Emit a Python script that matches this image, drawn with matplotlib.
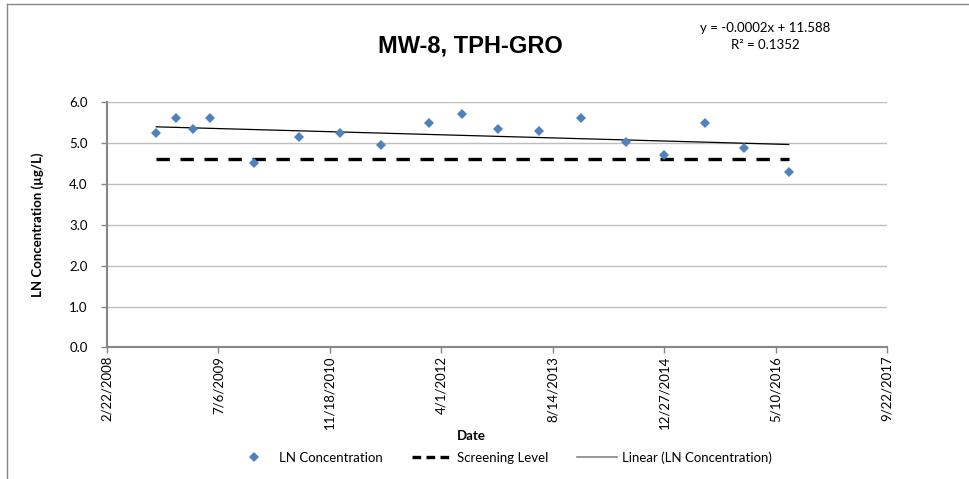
import matplotlib
matplotlib.use("Agg")
import matplotlib.pyplot as plt
import matplotlib.dates as mdates
from matplotlib.lines import Line2D
import numpy as np
import pandas as pd

# ---- data ----
sample_dates = ["2008-09-30", "2008-12-26", "2009-03-12", "2009-05-31", "2009-12-12",
                "2010-07-03", "2011-01-03", "2011-07-06", "2012-02-04", "2012-07-03",
                "2012-12-11", "2013-06-13", "2013-12-21", "2014-07-07", "2014-12-26",
                "2015-06-28", "2015-12-19", "2016-07-08"]
ln_conc = [5.25, 5.60, 5.35, 5.60, 4.52, 5.14, 5.25, 4.95, 5.49, 5.71,
           5.35, 5.30, 5.60, 5.02, 4.71, 5.49, 4.87, 4.30]
screening_level = 4.6
tick_start = "2008-02-22"
tick_step_days = 500
n_ticks = 8
y_ticks = [0.0, 1.0, 2.0, 3.0, 4.0, 5.0, 6.0]
title = "MW-8, TPH-GRO"
eq_text = "y = -0.0002x + 11.588"
r2_text = "R\u00b2 = 0.1352"

font = "Lato"
W, H = 969, 479
fig = plt.figure(figsize=(W / 100, H / 100), dpi=100)
ax = fig.add_axes([107 / W, (H - 347.4) / H, (887 - 107) / W, (347.4 - 102) / H])

dates = pd.to_datetime(sample_dates)
xnum = mdates.date2num(dates)

ax.plot(dates, ln_conc, linestyle="none", marker="D", markersize=5.4,
        color="#4F81BD", markeredgewidth=0, zorder=4)

sl_x = [dates[0], dates[-1]]
ax.plot(sl_x, [screening_level, screening_level], color="black", linewidth=2.4,
        dashes=(4.0, 3.2), dash_capstyle="butt", zorder=3)

coef = np.polyfit(xnum, ln_conc, 1)
tx = np.array([xnum[0], xnum[-1]])
ax.plot(mdates.num2date(tx), np.polyval(coef, tx), color="black", linewidth=0.9, zorder=3)

ticks = pd.date_range(tick_start, periods=n_ticks, freq=f"{tick_step_days}D")
ax.set_xlim(ticks[0], ticks[-1])
ax.set_xticks(ticks)
ax.set_xticklabels([f"{d.month}/{d.day}/{d.year}" for d in ticks], rotation=90,
                   fontsize=9.5, family=font)
ax.set_ylim(0, 6)
ax.set_yticks(y_ticks)
ax.set_yticklabels([f"{v:.1f}" for v in y_ticks], fontsize=9.5, family=font)

ax.grid(axis="y", color="#BEBEBE", linewidth=1.0)
ax.set_axisbelow(True)
for s in ["top", "right"]:
    ax.spines[s].set_visible(False)
for s in ["left", "bottom"]:
    ax.spines[s].set_color("#868686")
    ax.spines[s].set_linewidth(1.5)
ax.tick_params(axis="both", colors="#868686", length=4, width=1, labelcolor="black")
ax.tick_params(axis="x", pad=2)
ax.tick_params(axis="y", pad=10)

ax.set_xlabel("Date", fontsize=9.5, fontweight="bold", family=font)
ax.xaxis.set_label_coords((471 - 107) / (887 - 107), -(430.5 - 347.4) / (347.4 - 102))
ax.set_ylabel("LN Concentration (\u00b5g/L)", fontsize=9.5, fontweight="bold", family=font)
ax.yaxis.set_label_coords(-(107 - 44) / (887 - 107), 0.5)

fig.text(470 / W, 1 - 45.7 / H, title, ha="center", va="center", fontsize=17,
         fontweight="bold", family="Liberation Sans")
fig.text(765 / W, 1 - 28.5 / H, eq_text, ha="center", va="center", fontsize=9.5, family=font)
fig.text(765 / W, 1 - 45 / H, r2_text, ha="center", va="center", fontsize=9.5, family=font)

handles = [
    Line2D([], [], linestyle="none", marker="D", markersize=5.4, color="#4F81BD", markeredgewidth=0),
    Line2D([], [], color="black", linewidth=2.4, dashes=(2.6, 1.6), dash_capstyle="butt"),
    Line2D([], [], color="#868686", linewidth=1.2),
]
labels = ["LN Concentration", "Screening Level", "Linear (LN Concentration)"]
fig.legend(handles, labels, loc="center", bbox_to_anchor=(503 / W, 1 - 457.5 / H), ncol=3,
           frameon=False, prop={"family": font, "size": 9.5}, handlelength=3.0,
           columnspacing=2.2, handletextpad=0.4)

# outer chart border (top and left visible)
fig.add_artist(Line2D([7 / W, 7 / W], [0, 1 - 4 / H], transform=fig.transFigure,
                      color="#868686", linewidth=1.0))
fig.add_artist(Line2D([7 / W, 1], [1 - 4 / H, 1 - 4 / H], transform=fig.transFigure,
                      color="#868686", linewidth=1.0))

fig.savefig("out.png", dpi=100)
